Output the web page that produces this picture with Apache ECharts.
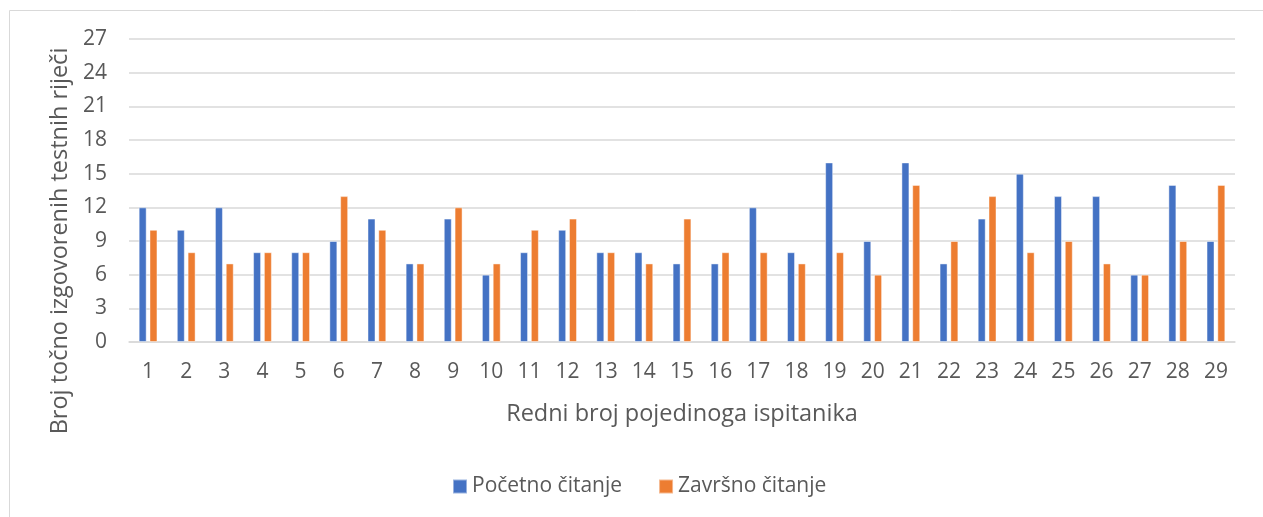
<!DOCTYPE html>
<html>
<head>
<meta charset="utf-8">
<script src="https://cdn.jsdelivr.net/npm/echarts@6/dist/echarts.min.js"></script>
<style>
  html, body { margin: 0; padding: 0; background: #fff; }
  #chart { width: 1263px; height: 517px; }
</style>
</head>
<body>
<div id="chart"></div>
<script>
const ispitanici = ['1','2','3','4','5','6','7','8','9','10','11','12','13','14','15','16','17','18','19','20','21','22','23','24','25','26','27','28','29'];
const pocetno = [12,10,12,8,8,9,11,7,11,6,8,10,8,8,7,7,12,8,16,9,16,7,11,15,13,13,6,14,9];
const zavrsno = [10,8,7,8,8,13,10,7,12,7,10,11,8,7,11,8,8,7,8,6,14,9,13,8,9,7,6,9,14];

const font = "'Open Sans', sans-serif";
const textColor = '#595959';

const chart = echarts.init(document.getElementById('chart'));

chart.setOption({
    animation: false,
    textStyle: { fontFamily: font },
    grid: {
        left: 129,
        right: 28,
        top: 39,
        bottom: 175
    },
    legend: {
        data: ['Početno čitanje', 'Završno čitanje'],
        left: 452,
        top: 476,
        padding: 0,
        icon: 'rect',
        itemWidth: 14,
        itemHeight: 14,
        itemGap: 36,
        textStyle: { color: textColor, fontSize: 21, lineHeight: 14, fontFamily: font }
    },
    graphic: [
        {
            // okvir grafikona
            type: 'rect',
            shape: { x: 9.5, y: 10.5, width: 1400, height: 700 },
            style: { fill: 'none', stroke: '#d9d9d9', lineWidth: 1 },
            silent: true
        },
        {
            type: 'text',
            x: 60,
            y: 241,
            rotation: Math.PI / 2,
            style: {
                text: 'Broj točno izgovorenih testnih riječi',
                fill: textColor,
                font: "23.5px 'Open Sans', sans-serif",
                align: 'center',
                verticalAlign: 'middle'
            }
        }
    ],
    xAxis: {
        type: 'category',
        data: ispitanici,
        name: 'Redni broj pojedinoga ispitanika',
        nameLocation: 'middle',
        nameGap: 60,
        nameTextStyle: { color: textColor, fontSize: 23.5, fontFamily: font },
        axisLine: { lineStyle: { color: '#d9d9d9', width: 1.5 } },
        axisTick: { show: false },
        axisLabel: { color: textColor, fontSize: 21, margin: 20 }
    },
    yAxis: {
        type: 'value',
        min: 0,
        max: 27,
        interval: 3,
        axisLine: { show: false },
        axisTick: { show: false },
        axisLabel: { color: textColor, fontSize: 21, margin: 22 },
        splitLine: { lineStyle: { color: '#d9d9d9', width: 1.5 } }
    },
    series: [
        {
            name: 'Početno čitanje',
            type: 'bar',
            data: pocetno,
            barWidth: 8,
            barGap: '35%',
            itemStyle: { color: '#4472C4', borderColor: 'rgba(255,255,255,0.45)', borderWidth: 1 }
        },
        {
            name: 'Završno čitanje',
            type: 'bar',
            data: zavrsno,
            barWidth: 8,
            barGap: '35%',
            itemStyle: { color: '#ED7D31', borderColor: 'rgba(255,255,255,0.45)', borderWidth: 1 }
        }
    ]
});
</script>
</body>
</html>
